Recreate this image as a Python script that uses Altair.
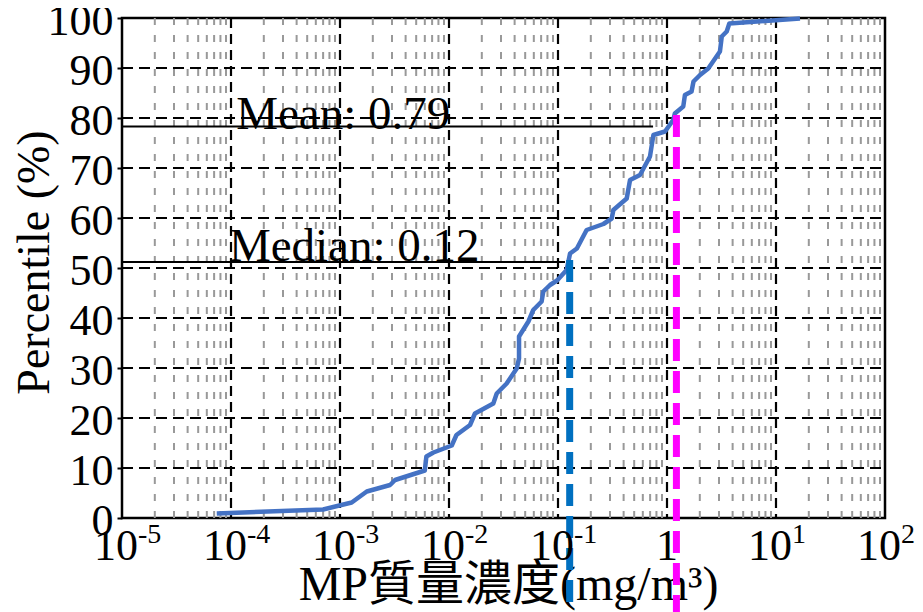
import altair as alt
import pandas as pd

# ---- data ----
conc = [7.4e-5, 7.0e-4, 1.28e-3, 1.76e-3, 2.88e-3, 3.2e-3, 6.0e-3, 6.2e-3, 7.2e-3,
        0.0106, 0.0117, 0.0156, 0.0173, 0.0255, 0.0274, 0.0338, 0.0418, 0.0439, 0.0439,
        0.0535, 0.0593, 0.0708, 0.0733, 0.0845, 0.098, 0.120, 0.129, 0.149, 0.183,
        0.261, 0.311, 0.322, 0.427, 0.458, 0.565, 0.698, 0.750, 0.959, 1.14, 1.18,
        1.41, 1.46, 1.68, 1.75, 2.01, 2.39, 3.06, 3.18, 3.53, 3.73, 16.6]
pct = [0.9, 1.7, 3.1, 5.3, 6.6, 7.6, 9.5, 12.3, 13.1,
       14.5, 16.6, 18.6, 20.9, 22.9, 24.9, 26.9, 29.9, 31.9, 36.3,
       39.3, 41.6, 43.3, 45.3, 46.6, 47.5, 49.6, 52.9, 53.9, 57.6,
       58.8, 59.9, 61.6, 63.9, 67.6, 68.6, 72.3, 76.6, 77.3, 79.6, 80.9,
       82.3, 84.6, 85.3, 87.3, 88.6, 89.9, 93.3, 96.3, 97.3, 98.9, 99.9]

x_tick_values = [1e-5, 1e-4, 1e-3, 1e-2, 1e-1, 1, 10, 100]
x_tick_base = ["10", "10", "10", "10", "10", "1", "10", "10"]
x_tick_exp = ["-5", "-4", "-3", "-2", "-1", "", "1", "2"]
y_tick_values = [0, 10, 20, 30, 40, 50, 60, 70, 80, 90, 100]

decades = [1e-4, 1e-3, 1e-2, 1e-1, 1, 10]
minor_mult = [2, 3, 4, 5, 6, 7, 8, 9]
minor_start = [1e-5, 1e-4, 1e-3, 1e-2, 1e-1, 1, 10]
h_grid = [10, 20, 30, 40, 50, 60, 70, 80, 90]

ref_labels = ["Mean: 0.79", "Median: 0.12"]
ref_label_x = [1.07e-3, 1.35e-3]
ref_label_y = [77.8, 51.5]
ref_hline_y = [78.3, 51.2]
ref_hline_x_end = [0.745, 0.116]
ref_vline_x = [1.22, 0.128]
ref_vline_top = [80.6, 51.6]
ref_vline_color = ["#FF00FF", "#0070C0"]

W, H = 763, 500
FONT = "Liberation Serif"

xscale = alt.Scale(type="log", domain=[1e-5, 100], nice=False)
yscale = alt.Scale(domain=[0, 100], nice=False, zero=False)

x_axis = alt.Axis(title="MP質量濃度(mg/m³)", labels=False, ticks=False, domain=False,
                  grid=False, titleFont=f"{FONT}, Noto Sans CJK TC", titleFontSize=48,
                  titleFontWeight="normal", titleColor="black", titleX=386, titleY=81,
                  titleBaseline="alphabetic", titleAlign="center", titleAnchor="middle")
y_axis = alt.Axis(title="Percentile (%)", values=y_tick_values, grid=False, domain=False,
                  labelFont=FONT, labelFontSize=44, labelColor="black", labelPadding=4,
                  labelOffset=3,
                  tickSize=5, tickWidth=2, tickColor="black", labelOverlap=False,
                  titleFont=FONT, titleFontSize=46, titleFontWeight="normal",
                  titleColor="black", titleX=-88, titleY=244, titleBaseline="middle",
                  titleAlign="center", titleAngle=-90)


def X(field):
    return alt.X(field, type="quantitative", scale=xscale, axis=x_axis)


def Y(field):
    return alt.Y(field, type="quantitative", scale=yscale, axis=y_axis)


minor_df = pd.DataFrame({"x": [m * s for s in minor_start for m in minor_mult]})
major_df = pd.DataFrame({"x": decades})
hgrid_df = pd.DataFrame({"y": h_grid})
curve_df = pd.DataFrame({"x": conc, "y": pct})
ref_df = pd.DataFrame({"label": ref_labels, "lx": ref_label_x, "ly": ref_label_y,
                       "hy": ref_hline_y, "hx0": [1e-5, 1e-5], "hx1": ref_hline_x_end,
                       "vx": ref_vline_x, "vtop": ref_vline_top, "color": ref_vline_color})
tick_df = pd.DataFrame({"v": x_tick_values, "base": x_tick_base, "exp": x_tick_exp})

minor = alt.Chart(minor_df).mark_rule(color="#999999", strokeWidth=2, strokeDash=[7, 10]).encode(
    x=X("x"), y=alt.value(0), y2=alt.value(H))
major = alt.Chart(major_df).mark_rule(color="black", strokeWidth=2.2, strokeDash=[10, 6]).encode(
    x=X("x"), y=alt.value(0), y2=alt.value(H))
hgrid = alt.Chart(hgrid_df).mark_rule(color="black", strokeWidth=2, strokeDash=[11, 6]).encode(
    y=Y("y"), x=alt.value(0), x2=alt.value(W))

hlines = alt.Chart(ref_df).mark_rule(color="black", strokeWidth=2).encode(
    x=X("hx0"), x2="hx1", y=Y("hy"))

curve = alt.Chart(curve_df).mark_line(color="#4472C4", strokeWidth=4.5,
                                      strokeJoin="round").encode(
    x=X("x"), y=Y("y"), order=alt.Order("y:Q"))

vlines = alt.Chart(ref_df).mark_rule(strokeWidth=7, strokeDash=[22, 10]).encode(
    x=X("vx"), y=Y("vtop"), y2=alt.value(H + 100),
    color=alt.Color("color:N", scale=None))

ref_text = alt.Chart(ref_df).mark_text(font=FONT, fontSize=47, color="black",
                                       align="center", baseline="alphabetic").encode(
    x=X("lx"), y=Y("ly"), text="label:N")

tick_base = alt.Chart(tick_df).transform_filter("datum.exp != ''").mark_text(
    font=FONT, fontSize=44, color="black", align="right", baseline="alphabetic", dx=16).encode(
    x=X("v"), y=alt.value(H + 42), text="base:N")
tick_one = alt.Chart(tick_df).transform_filter("datum.exp == ''").mark_text(
    font=FONT, fontSize=44, color="black", align="center", baseline="alphabetic").encode(
    x=X("v"), y=alt.value(H + 42), text="base:N")
tick_exp = alt.Chart(tick_df).transform_filter("datum.exp != ''").mark_text(
    font=FONT, fontSize=28, color="black", align="left", baseline="alphabetic", dx=16).encode(
    x=X("v"), y=alt.value(H + 25), text="exp:N")

chart = alt.layer(minor, major, hgrid, hlines, curve, vlines, ref_text,
                  tick_base, tick_one, tick_exp).properties(
    width=W, height=H,
    autosize=alt.AutoSizeParams(type="none"),
    padding={"left": 114, "top": 10, "right": 30, "bottom": 94},
    background="white",
).configure_view(stroke="black", strokeWidth=2.5)

chart.save("out.html", embed_options={"renderer": "svg", "actions": False})
